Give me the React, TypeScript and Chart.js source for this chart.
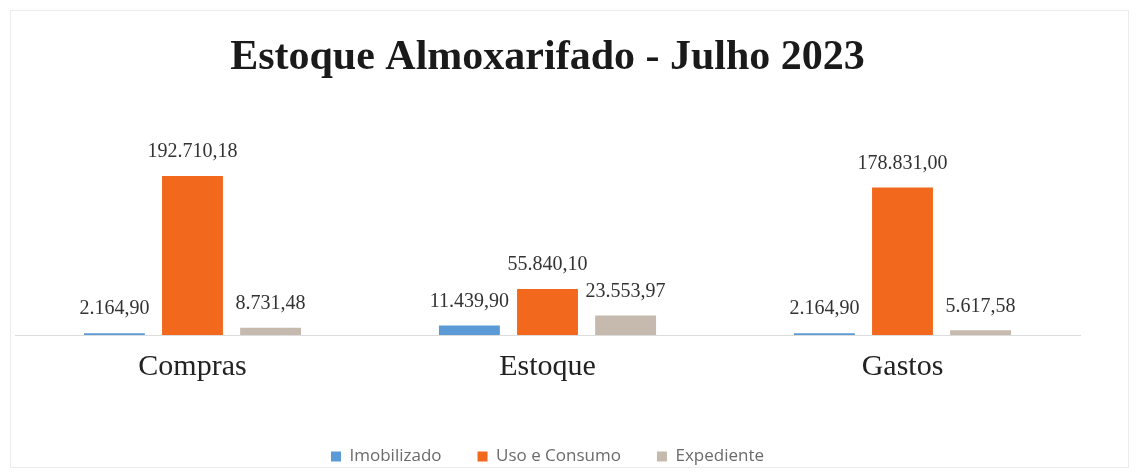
import React, { useEffect, useRef } from "react";
import { Chart, registerables } from "chart.js";

Chart.register(...registerables);

const categories = ["Compras", "Estoque", "Gastos"];
const imobilizado = [2164.9, 11439.9, 2164.9];
const usoConsumo = [192710.18, 55840.1, 178831.0];
const expediente = [8731.48, 23553.97, 5617.58];
const seriesNames = ["Imobilizado", "Uso e Consumo", "Expediente"];
const seriesColors = ["#5B9BD5", "#F2691E", "#C6BAAE"];

function fmt(v: number): string {
  const [i, d] = v.toFixed(2).split(".");
  return i.replace(/\B(?=(\d{3})+(?!\d))/g, ".") + "," + d;
}

const labelPlugin = {
  id: "valueLabels",
  afterDatasetsDraw(chart: any) {
    const ctx = chart.ctx;
    ctx.save();
    ctx.font = "20px 'Liberation Serif', 'Times New Roman', serif";
    ctx.fillStyle = "#333333";
    ctx.textAlign = "center";
    ctx.textBaseline = "middle";
    chart.data.datasets.forEach((ds: any, di: number) => {
      const meta = chart.getDatasetMeta(di);
      meta.data.forEach((bar: any, i: number) => {
        ctx.fillText(fmt(ds.data[i]), bar.x, bar.y - 24);
      });
    });
    ctx.restore();
  },
};

const framePlugin = {
  id: "frame",
  beforeDraw(chart: any) {
    const ctx = chart.ctx;
    ctx.save();
    ctx.fillStyle = "#ffffff";
    ctx.fillRect(0, 0, chart.width, chart.height);
    ctx.strokeStyle = "#ececec";
    ctx.lineWidth = 1;
    ctx.strokeRect(10.5, 10.5, chart.width - 20, chart.height - 18);
    ctx.restore();
  },
};

export default function App() {
  const ref = useRef<HTMLCanvasElement | null>(null);
  useEffect(() => {
    document.body.style.margin = "0";
    if (!ref.current) return;
    const chart = new Chart(ref.current, {
      type: "bar",
      data: {
        labels: categories,
        datasets: [imobilizado, usoConsumo, expediente].map((d, k) => ({
          label: seriesNames[k],
          data: d,
          backgroundColor: seriesColors[k],
          borderWidth: 0,
          categoryPercentage: 0.66,
          barPercentage: 0.78,
        })),
      },
      options: {
        responsive: true,
        maintainAspectRatio: false,
        animation: false,
        layout: { padding: { top: 8, left: 15, right: 58, bottom: 0 } },
        plugins: {
          tooltip: { enabled: false },
          title: {
            display: true,
            text: "Estoque Almoxarifado - Julho 2023",
            color: "#1a1a1a",
            font: { family: "'Liberation Serif', 'Times New Roman', serif", size: 42, weight: "bold" },
            padding: { top: 25, bottom: 37 },
          },
          legend: {
            position: "bottom",
            labels: {
              boxWidth: 10,
              boxHeight: 10,
              padding: 36,
              color: "#6b6b6b",
              font: { family: "'Open Sans', sans-serif", size: 17 },
            },
          },
        },
        scales: {
          x: {
            grid: { display: false, drawTicks: false },
            border: { display: true, color: "#dcdcdc" },
            ticks: {
              color: "#222222",
              padding: 14,
              font: { family: "'Liberation Serif', 'Times New Roman', serif", size: 30 },
            },
            afterFit: (s: any) => {
              s.height = 77;
            },
          },
          y: {
            display: false,
            min: 0,
            max: 260000,
          },
        },
      },
      plugins: [framePlugin, labelPlugin],
    });
    return () => chart.destroy();
  }, []);
  return (
    <div style={{ width: "1138px", height: "475px", position: "relative" }}>
      <canvas ref={ref} />
    </div>
  );
}
